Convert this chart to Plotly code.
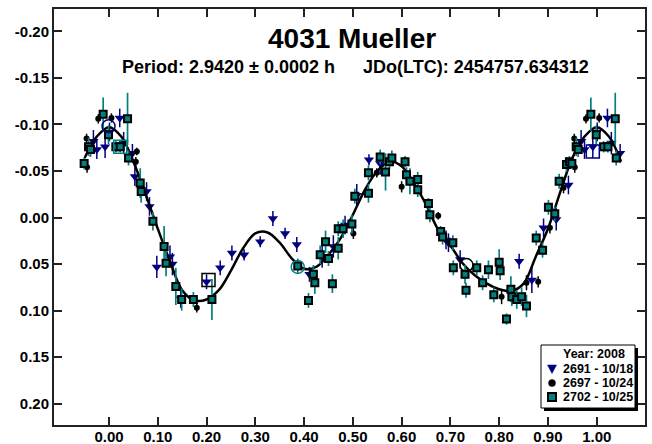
import plotly.graph_objects as go

# ---------------- data ----------------
# Session 2691 - 10/18 (navy triangles)
s2691_phase = [0.001, 0.022, 0.030, 0.048, 0.053, 0.077, 0.083, 0.098, 0.125, 0.130,
               0.147, 0.200, 0.228, 0.252, 0.277, 0.310, 0.336, 0.361, 0.385, 0.411,
               0.437, 0.460, 0.484, 0.508, 0.533, 0.556, 0.691, 0.696, 0.720, 0.841,
               0.867, 0.891, 0.917, 0.942, 0.968, 0.975, 0.992]
s2691_mag = [-0.092, -0.107, -0.080, -0.069, -0.044, -0.028, -0.012, 0.053, 0.042, 0.050,
             0.087, 0.069, 0.054, 0.038, 0.040, 0.026, 0.001, 0.017, 0.029, 0.061,
             0.042, 0.031, 0.008, -0.024, -0.062, -0.058, 0.024, 0.027, 0.045, 0.047,
             0.067, 0.011, 0.002, -0.035, -0.082, -0.073, -0.076]
s2691_err = [0.010, 0.010, 0.012, 0.010, 0.010, 0.010, 0.010, 0.012, 0.012, 0.012,
             0.010, 0.008, 0.008, 0.008, 0.006, 0.006, 0.008, 0.006, 0.008, 0.008,
             0.012, 0.012, 0.010, 0.012, 0.006, 0.012, 0.010, 0.010, 0.010, 0.008,
             0.014, 0.010, 0.012, 0.010, 0.012, 0.010, 0.012]

# Session 2697 - 10/24 (black circles)
s2697_phase = [0.005, 0.055, 0.057, 0.180, 0.501, 0.549, 0.600, 0.675, 0.805, 0.856,
               0.880, 0.904, 0.932, 0.954, 0.955, 0.978]
s2697_mag = [-0.107, -0.060, -0.071, 0.097, 0.017, -0.048, -0.033, -0.002, 0.085, 0.070,
             0.069, 0.011, -0.032, -0.085, -0.054, -0.106]
s2697_err = [0.005, 0.005, 0.004, 0.005, 0.006, 0.005, 0.006, 0.004, 0.008, 0.008,
             0.006, 0.006, 0.006, 0.005, 0.006, 0.005]

# Session 2702 - 10/25 (teal squares)
s2702_phase = [0.014, 0.023, 0.038, 0.040, 0.064, 0.066, 0.090, 0.113, 0.117, 0.137,
               0.149, 0.173, 0.211, 0.387, 0.409, 0.419, 0.422, 0.433, 0.444, 0.450,
               0.458, 0.470, 0.470, 0.480, 0.498, 0.504, 0.532, 0.532, 0.556, 0.567,
               0.575, 0.580, 0.607, 0.610, 0.617, 0.633, 0.633, 0.655, 0.658, 0.680,
               0.684, 0.705, 0.706, 0.730, 0.732, 0.754, 0.766, 0.778, 0.789, 0.800,
               0.802, 0.815, 0.824, 0.826, 0.836, 0.846, 0.856, 0.876, 0.889, 0.901,
               0.914, 0.923, 0.938, 0.944, 0.949, 0.958, 0.962, 0.988, 0.999]
s2702_mag = [-0.076, -0.076, -0.106, -0.064, -0.037, -0.028, 0.004, 0.031, 0.049, 0.074,
             0.088, 0.088, 0.088, 0.052, 0.089, 0.061, 0.070, 0.040, 0.026, 0.044,
             0.071, 0.033, 0.012, 0.012, 0.007, -0.023, -0.026, -0.048, -0.065, -0.049,
             -0.060, -0.064, -0.060, -0.046, -0.039, -0.041, -0.030, -0.015, -0.003, 0.015,
             0.021, 0.027, 0.054, 0.061, 0.078, 0.054, 0.070, 0.056, 0.083, 0.048,
             0.057, 0.109, 0.077, 0.085, 0.088, 0.085, 0.095, 0.022, 0.035, -0.011,
             -0.004, -0.039, -0.057, -0.060, -0.058, -0.076, -0.073, -0.111, -0.089]
s2702_err = [0.006, 0.006, 0.028, 0.008, 0.016, 0.012, 0.010, 0.022, 0.014, 0.020,
             0.012, 0.008, 0.022, 0.008, 0.008, 0.010, 0.012, 0.010, 0.012, 0.008,
             0.010, 0.012, 0.008, 0.010, 0.010, 0.008, 0.010, 0.008, 0.008, 0.020,
             0.008, 0.008, 0.006, 0.008, 0.014, 0.008, 0.008, 0.006, 0.008, 0.006,
             0.008, 0.008, 0.008, 0.010, 0.008, 0.008, 0.008, 0.010, 0.008, 0.014,
             0.010, 0.006, 0.014, 0.010, 0.010, 0.010, 0.012, 0.008, 0.008, 0.008,
             0.008, 0.008, 0.008, 0.006, 0.006, 0.010, 0.008, 0.018, 0.010]

# Highlighted (hollow) reference points
hl_phase = [-0.001, 0.023, 0.204, 0.387, 0.733, 0.992]
hl_mag = [-0.098, -0.076, 0.067, 0.053, 0.051, -0.071]
hl_symbol = ["circle-open", "square-open", "square-open", "circle-open", "circle-open", "square-open"]
hl_color = ["#000080", "#008080", "#000000", "#008080", "#000000", "#000080"]

# Fourier fit curve
fit_phase = [0.000, 0.025, 0.050, 0.075, 0.100, 0.125, 0.150, 0.175, 0.200, 0.225,
             0.250, 0.275, 0.300, 0.325, 0.350, 0.375, 0.400, 0.425, 0.450, 0.475,
             0.500, 0.525, 0.550, 0.575, 0.600, 0.625, 0.650, 0.675, 0.700, 0.725,
             0.750, 0.775, 0.800, 0.825, 0.850, 0.875, 0.900, 0.925, 0.950, 0.975]
fit_mag = [-0.097, -0.087, -0.060, -0.025, 0.012, 0.047, 0.078, 0.089, 0.088, 0.078,
           0.057, 0.033, 0.017, 0.016, 0.027, 0.044, 0.055, 0.053, 0.040, 0.022,
           -0.003, -0.030, -0.050, -0.060, -0.055, -0.037, -0.014, 0.013, 0.030, 0.049,
           0.062, 0.071, 0.077, 0.079, 0.071, 0.042, 0.012, -0.027, -0.064, -0.087]

x_tick_vals = [0.0, 0.1, 0.2, 0.3, 0.4, 0.5, 0.6, 0.7, 0.8, 0.9, 1.0]
x_tick_text = ["0.00", "0.10", "0.20", "0.30", "0.40", "0.50", "0.60", "0.70", "0.80", "0.90", "1.00"]
y_tick_vals = [-0.20, -0.15, -0.10, -0.05, 0.0, 0.05, 0.10, 0.15, 0.20]
y_tick_text = ["-0.20", "-0.15", "-0.10", "-0.05", "0.00", "0.05", "0.10", "0.15", "0.20"]

title_text = "4031 Mueller"
period_text = "Period: 2.9420 ± 0.0002 h"
jd_text = "JDo(LTC): 2454757.634312"
legend_title = "Year: 2008"
legend_labels = ["2691 - 10/18", "2697 - 10/24", "2702 - 10/25"]

# ---------------- styling / layout ----------------
NAVY, TEAL, BLACK = "#000080", "#008080", "#000000"
FONT = "Liberation Sans, Arial, sans-serif"
W, H = 652, 444
L, R, T, B = 54, 645, 9, 425
WIN_LO, WIN_HI = -0.052, 1.052


def wrap(ph, mag, err=None):
    xs, ys, es = [], [], []
    for i, (p, m) in enumerate(zip(ph, mag)):
        for shift in (-1, 0, 1):
            q = p + shift
            if WIN_LO <= q <= WIN_HI:
                xs.append(q)
                ys.append(m)
                if err is not None:
                    es.append(err[i])
    order = sorted(range(len(xs)), key=lambda k: xs[k])
    xs = [xs[k] for k in order]
    ys = [ys[k] for k in order]
    es = [es[k] for k in order] if err is not None else None
    return xs, ys, es


def fx(px):
    return (px - L) / (R - L)


def fy(py):
    return (B - py) / (B - T)


fig = go.Figure()

x, y, e = wrap(s2691_phase, s2691_mag, s2691_err)
fig.add_trace(go.Scatter(x=x, y=y, mode="markers", showlegend=False,
                         marker=dict(symbol="triangle-down", size=9, color=NAVY),
                         error_y=dict(type="data", array=e, color=NAVY, thickness=1.5, width=0)))

x, y, e = wrap(s2697_phase, s2697_mag, s2697_err)
fig.add_trace(go.Scatter(x=x, y=y, mode="markers", showlegend=False,
                         marker=dict(symbol="circle", size=6, color=BLACK),
                         error_y=dict(type="data", array=e, color=BLACK, thickness=1.5, width=0)))

x, y, _ = wrap(fit_phase, fit_mag)
fig.add_trace(go.Scatter(x=x, y=y, mode="lines", showlegend=False,
                         line=dict(color=BLACK, width=2.5, shape="spline", smoothing=1.0)))

x, y, e = wrap(s2702_phase, s2702_mag, s2702_err)
fig.add_trace(go.Scatter(x=x, y=y, mode="markers", showlegend=False,
                         marker=dict(symbol="square", size=7, color=TEAL,
                                     line=dict(color=BLACK, width=2)),
                         error_y=dict(type="data", array=e, color=TEAL, thickness=1.7, width=0)))

fig.add_trace(go.Scatter(x=hl_phase, y=hl_mag, mode="markers", showlegend=False,
                         marker=dict(symbol=hl_symbol, size=13, color=hl_color,
                                     line=dict(color=hl_color, width=1.5))))

axis_common = dict(showline=True, linewidth=2, linecolor="#222222", mirror="ticks",
                   ticks="inside", ticklen=8, tickwidth=1.5, tickcolor="#222222",
                   showgrid=False, zeroline=False, automargin=False,
                   tickfont=dict(family=FONT, size=15, color=BLACK, weight="bold"))

fig.update_layout(
    width=W, height=H,
    margin=dict(l=L, r=W - R, t=T, b=H - B, pad=0),
    paper_bgcolor="white", plot_bgcolor="white",
    xaxis=dict(range=[-0.1128, 1.099], tickmode="array", tickvals=x_tick_vals,
               ticktext=x_tick_text, ticklabelstandoff=-3, **axis_common),
    yaxis=dict(range=[0.2228, -0.224], tickmode="array", tickvals=y_tick_vals,
               ticktext=y_tick_text, **axis_common),
    showlegend=False,
)

# titles
fig.add_annotation(x=fx(352), y=fy(39), xref="paper", yref="paper", text=title_text,
                   showarrow=False, xanchor="center", yanchor="middle",
                   font=dict(family=FONT, size=28, color=BLACK, weight="bold"))
fig.add_annotation(x=fx(120), y=fy(67), xref="paper", yref="paper", text=period_text,
                   showarrow=False, xanchor="left", yanchor="middle",
                   font=dict(family=FONT, size=18, color=BLACK, weight="bold"))
fig.add_annotation(x=fx(361), y=fy(67), xref="paper", yref="paper", text=jd_text,
                   showarrow=False, xanchor="left", yanchor="middle",
                   font=dict(family=FONT, size=18, color=BLACK, weight="bold"))

# legend box with drop shadow
bx0, bx1, by0, by1 = 541, 635, 345, 408
fig.add_shape(type="rect", xref="paper", yref="paper",
              x0=fx(bx0 + 3), x1=fx(bx1 + 3), y0=fy(by1 + 3), y1=fy(by0 + 3),
              fillcolor=BLACK, line=dict(width=0), layer="above")
fig.add_shape(type="rect", xref="paper", yref="paper",
              x0=fx(bx0), x1=fx(bx1), y0=fy(by1), y1=fy(by0),
              fillcolor="white", line=dict(color=BLACK, width=1), layer="above")

rows_y = [354, 369, 383, 397]
sx = 552
tri = "M {a},{b} L {c},{d} L {e},{f} Z".format(
    a=fx(sx - 4.5), b=fy(rows_y[1] - 4), c=fx(sx + 4.5), d=fy(rows_y[1] - 4),
    e=fx(sx), f=fy(rows_y[1] + 4.5))
fig.add_shape(type="path", xref="paper", yref="paper", path=tri,
              fillcolor=NAVY, line=dict(color=NAVY, width=0.5), layer="above")
fig.add_shape(type="circle", xref="paper", yref="paper",
              x0=fx(sx - 3.5), x1=fx(sx + 3.5), y0=fy(rows_y[2] + 3.5), y1=fy(rows_y[2] - 3.5),
              fillcolor=BLACK, line=dict(color=BLACK, width=0.5), layer="above")
fig.add_shape(type="rect", xref="paper", yref="paper",
              x0=fx(sx - 4), x1=fx(sx + 4), y0=fy(rows_y[3] + 4), y1=fy(rows_y[3] - 4),
              fillcolor=TEAL, line=dict(color=BLACK, width=2), layer="above")

for txt, ry in zip([legend_title] + legend_labels, rows_y):
    fig.add_annotation(x=fx(561), y=fy(ry), xref="paper", yref="paper", text=txt,
                       showarrow=False, xanchor="left", yanchor="middle",
                       font=dict(family=FONT, size=12.5, color=BLACK, weight="bold"))

fig.write_html("out.html",
               config={"displayModeBar": False},
               post_script="document.body.style.margin='0px';document.body.style.padding='0px';"
                           "document.body.style.overflow='hidden';")
